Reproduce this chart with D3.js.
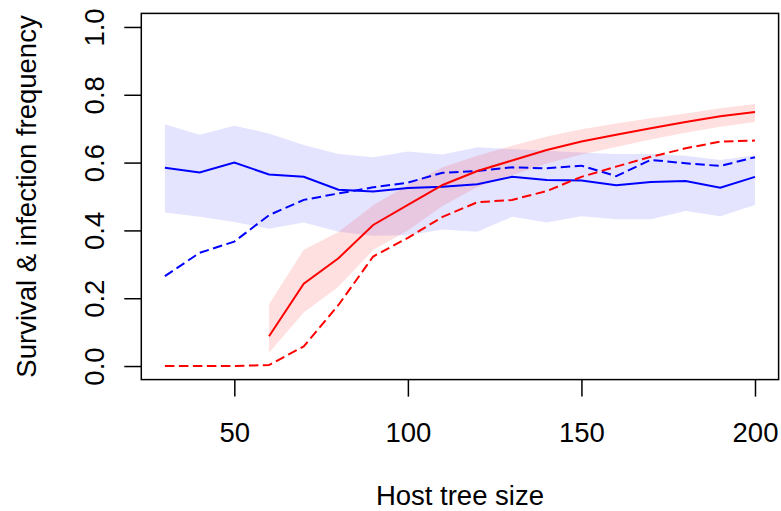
<!DOCTYPE html>
<html>
<head>
<meta charset="utf-8">
<script src="https://cdn.jsdelivr.net/npm/d3@7"></script>
<style>
  body { margin: 0; background: #fff; }
  svg { display: block; font-family: "Liberation Sans", Arial, Helvetica, sans-serif; }
</style>
</head>
<body>
<div id="chart-container"></div>
<script>
const width = 781;
const height = 511;

const xAxisName = "Host tree size";
const yAxisName = "Survival & infection frequency";

// Host tree sizes
const sizes = [30, 40, 50, 60, 70, 80, 90, 100, 110, 120, 130, 140, 150, 160, 170, 180, 190, 200];
// red series only starts at size 60
const redSizes = [60, 70, 80, 90, 100, 110, 120, 130, 140, 150, 160, 170, 180, 190, 200];

// blue solid line and its band
const blueMean = [0.585, 0.571, 0.600, 0.565, 0.558, 0.520, 0.515, 0.525, 0.529, 0.536, 0.558, 0.549, 0.547, 0.533, 0.543, 0.546, 0.526, 0.558];
const blueLow  = [0.453, 0.440, 0.425, 0.405, 0.423, 0.396, 0.384, 0.386, 0.403, 0.396, 0.440, 0.423, 0.442, 0.433, 0.433, 0.457, 0.442, 0.475];
const blueHigh = [0.713, 0.682, 0.709, 0.686, 0.652, 0.625, 0.616, 0.633, 0.624, 0.645, 0.640, 0.635, 0.630, 0.625, 0.625, 0.620, 0.608, 0.622];
// blue dashed line
const blueDash = [0.265, 0.334, 0.367, 0.445, 0.490, 0.509, 0.527, 0.541, 0.570, 0.575, 0.586, 0.583, 0.591, 0.560, 0.608, 0.598, 0.590, 0.616];

// red solid line and its band
const redMean = [0.088, 0.243, 0.318, 0.416, 0.475, 0.534, 0.575, 0.606, 0.637, 0.662, 0.682, 0.701, 0.720, 0.737, 0.749];
const redLow  = [0.039, 0.158, 0.234, 0.342, 0.400, 0.472, 0.528, 0.563, 0.597, 0.624, 0.646, 0.668, 0.688, 0.706, 0.720];
const redHigh = [0.182, 0.343, 0.395, 0.474, 0.534, 0.586, 0.620, 0.650, 0.677, 0.698, 0.715, 0.731, 0.745, 0.760, 0.773];
// red dashed line
const redDash = [0.000, 0.000, 0.000, 0.003, 0.058, 0.180, 0.323, 0.378, 0.440, 0.483, 0.490, 0.516, 0.558, 0.588, 0.617, 0.642, 0.662, 0.665];

const xTicks = [50, 100, 150, 200];
const yTicks = [0, 0.2, 0.4, 0.6, 0.8, 1.0];

// plot region (R style, 4% padding around the data range)
const plot = {left: 141.3, right: 778.6, top: 13.4, bottom: 379.6};

var svg = d3.select("#chart-container")
    .append("svg")
    .attr("width", width)
    .attr("height", height);

var xScale = d3.scaleLinear()
    .domain([23.2, 206.8])
    .range([plot.left, plot.right]);

var yScale = d3.scaleLinear()
    .domain([-0.04, 1.04])
    .range([plot.bottom, plot.top]);

var blueData = sizes.map((s, i) => ({x: s, mean: blueMean[i], lo: blueLow[i], hi: blueHigh[i], dash: blueDash[i]}));
var redData = redSizes.map((s, i) => ({x: s, mean: redMean[i], lo: redLow[i], hi: redHigh[i]}));
var redDashData = sizes.map((s, i) => ({x: s, dash: redDash[i]}));

var band = d3.area()
    .x(d => xScale(d.x))
    .y0(d => yScale(d.lo))
    .y1(d => yScale(d.hi));

var meanLine = d3.line()
    .x(d => xScale(d.x))
    .y(d => yScale(d.mean));

var dashLine = d3.line()
    .x(d => xScale(d.x))
    .y(d => yScale(d.dash));

// bands
svg.append("path")
    .datum(blueData)
    .attr("fill", "rgb(0,0,255)")
    .attr("fill-opacity", 0.105)
    .attr("d", band);

svg.append("path")
    .datum(redData)
    .attr("fill", "rgb(255,0,0)")
    .attr("fill-opacity", 0.12)
    .attr("d", band);

// lines
svg.append("path")
    .datum(blueData)
    .attr("fill", "none")
    .attr("stroke", "blue")
    .attr("stroke-width", 2)
    .attr("d", meanLine);

svg.append("path")
    .datum(blueData)
    .attr("fill", "none")
    .attr("stroke", "blue")
    .attr("stroke-width", 2)
    .attr("stroke-dasharray", "9.5,4.5")
    .attr("d", dashLine);

svg.append("path")
    .datum(redData)
    .attr("fill", "none")
    .attr("stroke", "red")
    .attr("stroke-width", 2)
    .attr("d", meanLine);

svg.append("path")
    .datum(redDashData)
    .attr("fill", "none")
    .attr("stroke", "red")
    .attr("stroke-width", 2)
    .attr("stroke-dasharray", "9.5,4.5")
    .attr("d", dashLine);

// box
svg.append("rect")
    .attr("x", plot.left)
    .attr("y", plot.top)
    .attr("width", plot.right - plot.left)
    .attr("height", plot.bottom - plot.top)
    .attr("fill", "none")
    .attr("stroke", "black")
    .attr("stroke-width", 1.5);

// x axis
var xAxis = svg.append("g")
    .attr("transform", `translate(0, ${plot.bottom})`)
    .call(d3.axisBottom(xScale).tickValues(xTicks).tickSize(17).tickFormat(d3.format("d")));
xAxis.select(".domain").remove();
xAxis.selectAll(".tick line").attr("stroke-width", 1.5);
xAxis.selectAll(".tick text")
    .attr("y", 62.4)
    .attr("dy", null)
    .attr("fill", "black")
    .style("font-size", "27.5px")
    .style("font-family", "'Liberation Sans', Arial, sans-serif");

// y axis
var yAxis = svg.append("g")
    .attr("transform", `translate(${plot.left}, 0)`)
    .call(d3.axisLeft(yScale).tickValues(yTicks).tickSize(17).tickFormat(d3.format(".1f")));
yAxis.select(".domain").remove();
yAxis.selectAll(".tick line").attr("stroke-width", 1.5);
yAxis.selectAll(".tick text")
    .attr("x", null)
    .attr("dy", null)
    .attr("text-anchor", "middle")
    .attr("transform", "translate(-37.5, 0) rotate(-90)")
    .attr("fill", "black")
    .style("font-size", "27.5px")
    .style("font-family", "'Liberation Sans', Arial, sans-serif");

// axis names
svg.append("text")
    .attr("x", (plot.left + plot.right) / 2)
    .attr("y", 505)
    .attr("text-anchor", "middle")
    .style("font-size", "27.5px")
    .text(xAxisName);

svg.append("text")
    .attr("transform", `translate(36, ${(plot.top + plot.bottom) / 2}) rotate(-90)`)
    .attr("text-anchor", "middle")
    .style("font-size", "27.5px")
    .text(yAxisName);
</script>
</body>
</html>
